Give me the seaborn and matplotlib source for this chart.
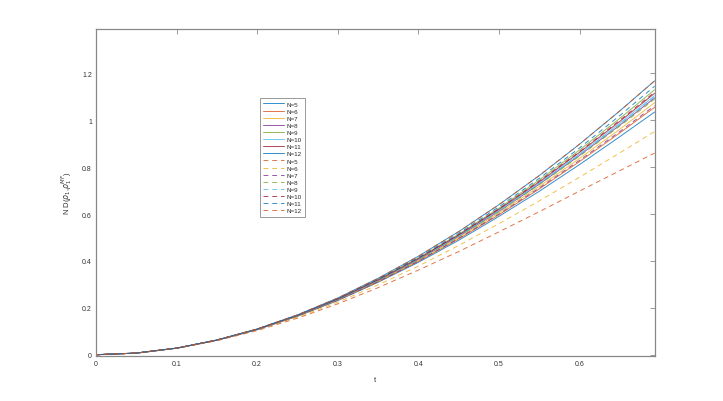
import matplotlib
matplotlib.use("Agg")
import matplotlib.pyplot as plt
import seaborn as sns

# time grid (t up to ln 2)
t = [0.0, 0.05, 0.1, 0.15, 0.2, 0.25, 0.3, 0.35, 0.4, 0.45, 0.5, 0.55, 0.6, 0.65, 0.6931]

labels_N = ["N=5", "N=6", "N=7", "N=8", "N=9", "N=10", "N=11", "N=12"]

# solid curves, N=5..12
solid = [
    [0, 0.007, 0.028, 0.062, 0.107, 0.164, 0.231, 0.309, 0.394, 0.488, 0.590, 0.697, 0.811, 0.930, 1.035],
    [0, 0.007, 0.028, 0.062, 0.107, 0.165, 0.233, 0.311, 0.398, 0.494, 0.597, 0.707, 0.824, 0.946, 1.055],
    [0, 0.007, 0.028, 0.062, 0.108, 0.166, 0.234, 0.314, 0.402, 0.499, 0.605, 0.717, 0.837, 0.962, 1.075],
    [0, 0.007, 0.028, 0.062, 0.108, 0.167, 0.236, 0.317, 0.406, 0.505, 0.612, 0.727, 0.850, 0.979, 1.095],
    [0, 0.007, 0.028, 0.063, 0.109, 0.168, 0.239, 0.321, 0.413, 0.514, 0.625, 0.745, 0.873, 1.008, 1.130],
    [0, 0.007, 0.028, 0.062, 0.109, 0.167, 0.237, 0.318, 0.408, 0.508, 0.616, 0.732, 0.856, 0.987, 1.105],
    [0, 0.007, 0.028, 0.062, 0.109, 0.168, 0.238, 0.319, 0.410, 0.510, 0.620, 0.737, 0.863, 0.995, 1.115],
    [0, 0.007, 0.028, 0.063, 0.110, 0.170, 0.242, 0.326, 0.420, 0.525, 0.640, 0.764, 0.898, 1.040, 1.168],
]

# dashed curves, N=5..12
dashed = [
    [0, 0.007, 0.027, 0.060, 0.103, 0.156, 0.217, 0.286, 0.361, 0.440, 0.524, 0.610, 0.698, 0.785, 0.860],
    [0, 0.007, 0.027, 0.061, 0.105, 0.160, 0.224, 0.298, 0.378, 0.466, 0.559, 0.656, 0.757, 0.861, 0.952],
    [0, 0.007, 0.028, 0.062, 0.107, 0.165, 0.233, 0.312, 0.399, 0.496, 0.600, 0.711, 0.829, 0.952, 1.062],
    [0, 0.007, 0.028, 0.062, 0.108, 0.166, 0.236, 0.316, 0.405, 0.503, 0.610, 0.725, 0.847, 0.975, 1.090],
    [0, 0.007, 0.028, 0.062, 0.108, 0.167, 0.236, 0.317, 0.407, 0.506, 0.614, 0.730, 0.853, 0.983, 1.100],
    [0, 0.007, 0.028, 0.063, 0.109, 0.168, 0.238, 0.320, 0.411, 0.512, 0.622, 0.740, 0.866, 1.000, 1.120],
    [0, 0.007, 0.028, 0.063, 0.109, 0.169, 0.240, 0.323, 0.415, 0.518, 0.631, 0.752, 0.882, 1.020, 1.145],
    [0, 0.007, 0.028, 0.063, 0.110, 0.170, 0.242, 0.326, 0.420, 0.525, 0.640, 0.764, 0.898, 1.040, 1.168],
]

# matlab default color order
matlab_colors = ["#0072BD", "#D95319", "#EDB120", "#7E2F8E", "#77AC30", "#4DBEEE", "#A2142F"]

sns.set_style("white")
plt.rcParams["font.family"] = ["Liberation Sans", "DejaVu Sans"]

fig = plt.figure(figsize=(7.23, 4.02), dpi=100)
ax = fig.add_axes([0.1328, 0.1119, 0.7725, 0.8127])

k = 0
for vals in solid:
    sns.lineplot(x=t, y=vals, ax=ax, color=matlab_colors[k % 7], linewidth=0.7, alpha=0.8)
    k += 1
for vals in dashed:
    sns.lineplot(x=t, y=vals, ax=ax, color=matlab_colors[k % 7], linewidth=0.7,
                 alpha=0.8, linestyle=(0, (5, 4)))
    k += 1

ax.set_xlim(0, 0.6931)
ax.set_ylim(-0.0055, 1.388)
ax.set_xticks([0, 0.1, 0.2, 0.3, 0.4, 0.5, 0.6])
ax.set_xticklabels(["0", "0.1", "0.2", "0.3", "0.4", "0.5", "0.6"])
ax.set_yticks([0, 0.2, 0.4, 0.6, 0.8, 1.0, 1.2])
ax.set_yticklabels(["0", "0.2", "0.4", "0.6", "0.8", "1", "1.2"])
ax.tick_params(direction="in", length=3.5, width=0.6, labelsize=5, colors="#888888",
               labelcolor="#333333", top=True, right=True, pad=3)
for s in ax.spines.values():
    s.set_color("#888888")
    s.set_linewidth(0.9)

ax.set_xlabel("t", fontsize=5.5, color="#333333", labelpad=6)
ax.set_ylabel(r"N D($\rho_1$,$\rho_1^{MF}$)", fontsize=5.5, color="#333333", labelpad=6)

handles = ax.get_lines()[:16]
leg = ax.legend(handles, labels_N + labels_N, loc="upper left",
                bbox_to_anchor=(0.288, 0.799), fontsize=4.5,
                handlelength=3.4, labelspacing=0.28, handletextpad=0.4,
                borderpad=0.5, fancybox=False, framealpha=1)
leg.get_frame().set_edgecolor("#888888")
leg.get_frame().set_linewidth(0.6)

fig.savefig("out.png", dpi=100)
